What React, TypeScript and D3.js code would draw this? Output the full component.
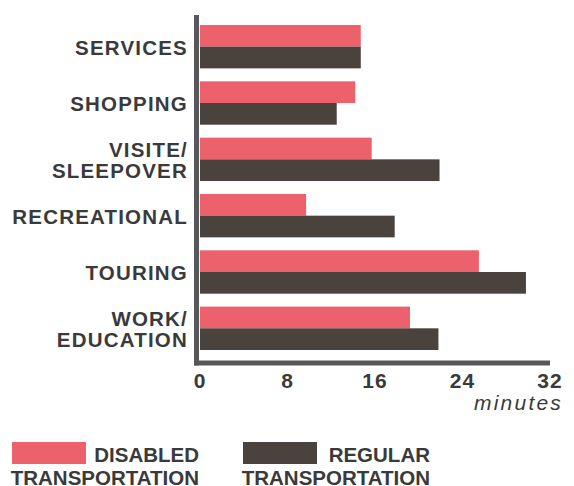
import React from "react";
import * as d3 from "d3";

const categories: string[][] = [
  ["SERVICES"],
  ["SHOPPING"],
  ["VISITE/", "SLEEPOVER"],
  ["RECREATIONAL"],
  ["TOURING"],
  ["WORK/", "EDUCATION"],
];
const disabledValues = [14.7, 14.2, 15.7, 9.7, 25.5, 19.2];
const regularValues = [14.7, 12.5, 21.9, 17.8, 29.8, 21.8];
const ticks = [0, 8, 16, 24, 32];
const seriesNames = [
  ["DISABLED", "TRANSPORTATION"],
  ["REGULAR", "TRANSPORTATION"],
];
const axisTitle = "minutes";

const PINK = "#ed616d";
const DARK = "#4a423d";
const TEXT = "#3a3a3a";
const AXIS = "#58585a";
const FONT = "'Liberation Sans', Arial, sans-serif";

export default function App() {
  const W = 574;
  const H = 486;
  const x = d3.scaleLinear().domain([0, 32]).range([200, 550]);
  const y = d3
    .scaleBand<number>()
    .domain(d3.range(categories.length))
    .range([25, 350])
    .paddingInner(0.23)
    .paddingOuter(0);
  const sub = d3.scaleBand<number>().domain([0, 1]).range([0, y.bandwidth()]);
  const series = [disabledValues, regularValues];
  const colors = [PINK, DARK];

  return (
    <svg
      width={W}
      height={H}
      style={{ position: "absolute", left: 0, top: 0 }}
      fontFamily={FONT}
    >
      {series.map((vals, si) =>
        vals.map((v, i) => (
          <rect
            key={`${si}-${i}`}
            x={x(0)}
            y={(y(i) as number) + (sub(si) as number)}
            width={x(v) - x(0)}
            height={sub.bandwidth()}
            fill={colors[si]}
          />
        ))
      )}
      {categories.map((lines, i) => {
        const cy = (y(i) as number) + y.bandwidth() / 2;
        const lh = 21.5;
        const start = cy + 8 - ((lines.length - 1) * lh) / 2;
        return (
          <text
            key={i}
            textAnchor="end"
            fontWeight="bold"
            fontSize={20.5}
            letterSpacing={1.2}
            fill={TEXT}
          >
            {lines.map((l, li) => (
              <tspan key={li} x={188} y={start + li * lh}>
                {l}
              </tspan>
            ))}
          </text>
        );
      })}
      <line x1={196.5} x2={196.5} y1={15} y2={365.5} stroke={AXIS} strokeWidth={5} />
      <line x1={194} x2={550} y1={363} y2={363} stroke={AXIS} strokeWidth={5} />
      {ticks.map((t) => (
        <text
          key={t}
          x={x(t)}
          y={388}
          textAnchor="middle"
          fontWeight="bold"
          fontSize={21}
          letterSpacing={1}
          fill={TEXT}
        >
          {t}
        </text>
      ))}
      <text
        x={563}
        y={410}
        textAnchor="end"
        fontStyle="italic"
        fontSize={21}
        letterSpacing={2.2}
        fill={TEXT}
      >
        {axisTitle}
      </text>
      {seriesNames.map((names, si) => {
        const rx = si === 0 ? 12 : 243;
        const right = si === 0 ? 199 : 430;
        return (
          <g key={si}>
            <rect x={rx} y={442} width={74} height={22} fill={colors[si]} />
            <text textAnchor="end" fontWeight="bold" fontSize={20.5} fill={TEXT}>
              <tspan x={right} y={461.5}>
                {names[0]}
              </tspan>
              <tspan x={right} y={484.5}>
                {names[1]}
              </tspan>
            </text>
          </g>
        );
      })}
    </svg>
  );
}
